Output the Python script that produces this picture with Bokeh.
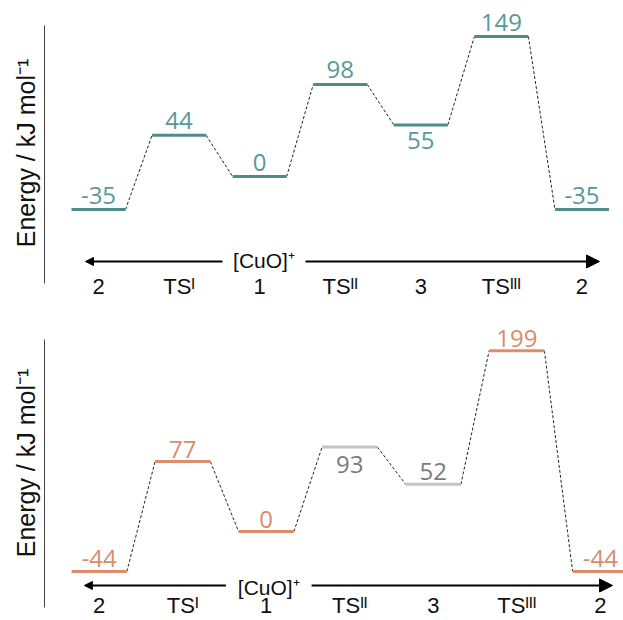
import numpy as np
from bokeh.plotting import figure
from bokeh.layouts import column
from bokeh.models import ColumnDataSource, Arrow, NormalHead, FixedTicker
from bokeh.core.properties import value
from bokeh.embed import file_html
from bokeh.resources import INLINE

# ---------------- data ----------------
states = ["2", "TSᴵ", "1", "TSᴵᴵ", "3", "TSᴵᴵᴵ", "2"]
energy_top = [-35, 44, 0, 98, 55, 149, -35]
energy_bottom = [-44, 77, 0, 93, 52, 199, -44]
below_top = [False, False, False, False, True, False, False]
below_bottom = [False, False, False, True, False, False, False]
reactant = "[CuO]⁺"
ylabel = "Energy / kJ mol⁻¹"

TEAL = "#4e8b8a"
TEAL_TXT = "#5a9897"
ORANGE = "#dc8e6c"
ORANGE_TXT = "#d98c6b"
GRAY = "#c4c4c4"
GRAY_TXT = "#7b7b7b"
colors_top = [TEAL] * 7
text_colors_top = [TEAL_TXT] * 7
colors_bottom = [ORANGE, ORANGE, ORANGE, GRAY, GRAY, ORANGE, ORANGE]
text_colors_bottom = [ORANGE_TXT, ORANGE_TXT, ORANGE_TXT, GRAY_TXT, GRAY_TXT, ORANGE_TXT, ORANGE_TXT]

# ---------------- layout (pixel geometry) ----------------
W = 623
TOP = dict(fig_h=305, scr_top=0, zero_px=176.1, k=0.940, c0=98.0, step=80.58,
           axis_x=44, ay0=25, ay1=283, hw=27.0, arrow_y=261, tip_l=85, gap_l=222,
           gap_r=305, tip_r=599, cat_y=286, cuo_dy=-1, dy_above=-14.5, dy_below=16,
           head_l=8, head_r=13)
BOT = dict(fig_h=315, scr_top=305, zero_px=531.0, k=0.908, c0=96.9, step=83.8,
           axis_x=42, ay0=339, ay1=607, hw=27.75, arrow_y=585, tip_l=82, gap_l=224,
           gap_r=310, tip_r=612, cat_y=605, cuo_dy=2, dy_above=-12.5, dy_below=17,
           head_l=8, head_r=13)


def panel(g, energies, below, colors, tcolors):
    X = lambda px: (px - g["c0"]) / g["step"]
    Y = lambda py: (g["zero_px"] - py) / g["k"]
    p = figure(width=W, height=g["fig_h"], output_backend="svg", toolbar_location=None,
               x_range=(X(g["axis_x"]), X(W)),
               y_range=(Y(g["scr_top"] + g["fig_h"]), Y(g["scr_top"])),
               min_border_left=g["axis_x"], min_border_right=0,
               min_border_top=0, min_border_bottom=0, x_axis_location=None)
    p.outline_line_color = None
    p.grid.visible = False
    p.background_fill_color = "white"
    p.border_fill_color = "white"

    ax = p.yaxis[0]
    ax.ticker = FixedTicker(ticks=[])
    ax.bounds = (Y(g["ay1"]), Y(g["ay0"]))
    ax.axis_line_color = "#444444"
    ax.axis_line_width = 1
    ax.major_tick_out = 0
    ax.major_tick_in = 0
    ax.minor_tick_out = 0
    ax.minor_tick_in = 0
    ax.major_label_standoff = 0
    ax.axis_label = ylabel
    ax.axis_label_standoff = 5
    ax.axis_label_text_font = "Liberation Sans"
    ax.axis_label_text_font_size = "25px"
    ax.axis_label_text_font_style = "normal"
    ax.axis_label_text_color = "#111111"

    idx = np.arange(len(energies), dtype=float)
    e = np.array(energies, dtype=float)
    hw = g["hw"] / g["step"]

    # dashed connectors
    p.segment(x0=idx[:-1] + hw, y0=e[:-1], x1=idx[1:] - hw, y1=e[1:],
              line_color="#222222", line_width=1, line_dash="3 2")
    # levels
    src = ColumnDataSource(dict(x0=idx - hw, x1=idx + hw, x=idx, y=e, c=colors, tc=tcolors,
                                t=[str(v) for v in energies],
                                off=[g["dy_below"] if b else g["dy_above"] for b in below]))
    p.segment(x0="x0", y0="y", x1="x1", y1="y", source=src, line_color="c",
              line_width=3, line_cap="butt")
    p.text(x="x", y="y", text="t", source=src, text_color="tc", y_offset="off",
           text_align="center", text_baseline="middle",
           text_font=value("Open Sans"), text_font_size="24px")

    # reaction-coordinate arrow
    ay = Y(g["arrow_y"])
    p.add_layout(Arrow(x_start=X(g["gap_l"]), y_start=ay, x_end=X(g["tip_l"]), y_end=ay,
                       line_width=2, line_color="black",
                       end=NormalHead(size=g["head_l"], fill_color="black", line_color="black", line_width=1)))
    p.add_layout(Arrow(x_start=X(g["gap_r"]), y_start=ay, x_end=X(g["tip_r"]), y_end=ay,
                       line_width=2, line_color="black",
                       end=NormalHead(size=g["head_r"], fill_color="black", line_color="black", line_width=1)))
    p.text(x=[(X(g["gap_l"]) + X(g["gap_r"])) / 2], y=[ay], text=[reactant],
           text_align="center", text_baseline="middle", y_offset=g["cuo_dy"],
           text_font=value("Liberation Sans"), text_font_size="21px", text_color="#111111")

    # state labels
    p.text(x=idx, y=[Y(g["cat_y"])] * len(idx), text=states,
           text_align="center", text_baseline="middle",
           text_font=value("Liberation Sans"), text_font_size="22px", text_color="#111111")
    return p


p1 = panel(TOP, energy_top, below_top, colors_top, text_colors_top)
p2 = panel(BOT, energy_bottom, below_bottom, colors_bottom, text_colors_bottom)
layout = column(p1, p2, spacing=0)

open("out.html", "w").write(file_html(layout, INLINE))
